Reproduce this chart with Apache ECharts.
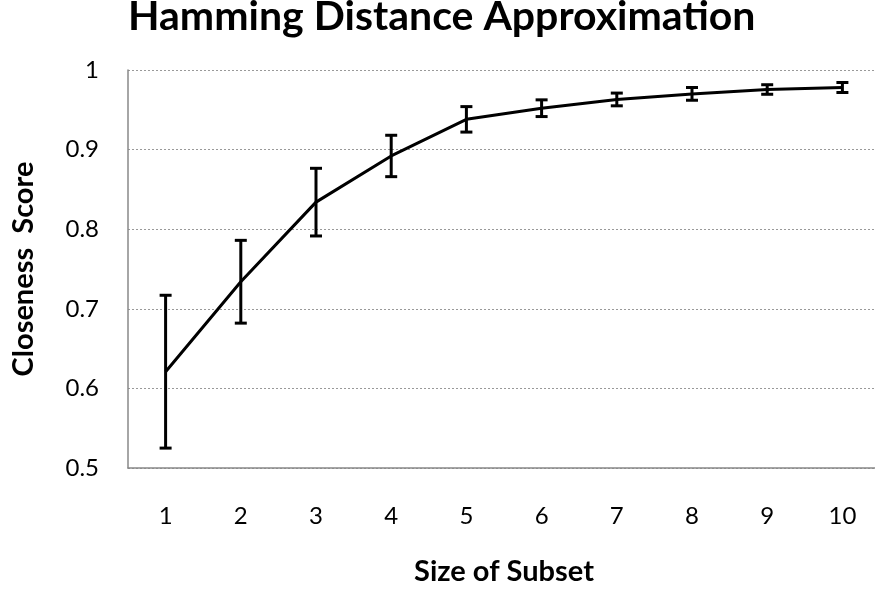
<!DOCTYPE html>
<html>
<head>
<meta charset="utf-8">
<title>Hamming Distance Approximation</title>
<script src="https://cdn.jsdelivr.net/npm/echarts@6/dist/echarts.min.js"></script>
<style>
    html, body { margin: 0; padding: 0; background: #fff; }
    #chart { width: 875px; height: 592px; }
</style>
</head>
<body>
<div id="chart"></div>
<script>
// 数据: 子集大小, 平均值, 误差 (±)
var subsetSizes = ['1', '2', '3', '4', '5', '6', '7', '8', '9', '10'];
var closenessMean = [0.621, 0.734, 0.834, 0.892, 0.938, 0.952, 0.963, 0.970, 0.9755, 0.978];
var closenessErr = [0.096, 0.052, 0.0425, 0.026, 0.016, 0.0105, 0.008, 0.008, 0.006, 0.0063];
var yTicks = { min: 0.5, max: 1, interval: 0.1 };

(function() {
    var FONT = 'Lato';

    // 误差线: [index, low, high]
    function buildErrorData() {
        var res = [];
        for (var i = 0; i < closenessMean.length; i++) {
            res.push([i, closenessMean[i] - closenessErr[i], closenessMean[i] + closenessErr[i]]);
        }
        return res;
    }

    function renderErrorBar(params, api) {
        var idx = api.value(0);
        var top = api.coord([idx, api.value(2)]);
        var bottom = api.coord([idx, api.value(1)]);
        var half = 6;
        var style = { stroke: '#000', lineWidth: 3 };
        return {
            type: 'group',
            children: [
                { type: 'line', shape: { x1: top[0], y1: top[1], x2: bottom[0], y2: bottom[1] }, style: style },
                { type: 'line', shape: { x1: top[0] - half, y1: top[1], x2: top[0] + half, y2: top[1] }, style: style },
                { type: 'line', shape: { x1: bottom[0] - half, y1: bottom[1], x2: bottom[0] + half, y2: bottom[1] }, style: style }
            ]
        };
    }

    var myChart = echarts.init(document.getElementById('chart'), null, { renderer: 'canvas' });

    var option = {
        backgroundColor: '#fff',
        animation: false,
        title: {
            text: 'Hamming Distance Approximation',
            left: 123,
            top: -9,
            textStyle: {
                fontFamily: FONT,
                fontWeight: 'bold',
                fontSize: 41,
                color: '#000'
            }
        },
        grid: {
            left: 128,
            top: 70,
            width: 752,
            height: 398,
            outerBoundsMode: 'none'
        },
        xAxis: {
            type: 'category',
            data: subsetSizes,
            boundaryGap: true,
            name: 'Size of Subset',
            nameLocation: 'middle',
            nameGap: 89,
            nameTextStyle: {
                fontFamily: FONT,
                fontWeight: 'bold',
                fontSize: 29,
                color: '#000'
            },
            axisLine: { lineStyle: { color: '#888', width: 1.5 } },
            axisTick: { show: false },
            axisLabel: {
                margin: 36,
                fontFamily: FONT,
                fontSize: 24,
                color: '#000'
            },
            splitLine: { show: false }
        },
        yAxis: {
            type: 'value',
            min: yTicks.min,
            max: yTicks.max,
            interval: yTicks.interval,
            name: 'Closeness  Score',
            nameLocation: 'middle',
            nameGap: 90,
            nameTextStyle: {
                fontFamily: FONT,
                fontWeight: 'bold',
                fontSize: 29,
                color: '#000'
            },
            axisLine: { show: true, lineStyle: { color: '#888', width: 1.5 } },
            axisTick: { show: false },
            axisLabel: {
                margin: 29,
                fontFamily: FONT,
                fontSize: 24,
                color: '#000'
            },
            splitLine: {
                show: true,
                lineStyle: { color: '#999', type: [2, 2], width: 1 }
            }
        },
        series: [
            {
                name: 'Closeness Score',
                type: 'line',
                data: closenessMean,
                symbol: 'none',
                lineStyle: { color: '#000', width: 3 },
                z: 3
            },
            {
                name: 'error',
                type: 'custom',
                data: buildErrorData(),
                renderItem: renderErrorBar,
                z: 4
            }
        ]
    };

    myChart.setOption(option);
})();
</script>
</body>
</html>
